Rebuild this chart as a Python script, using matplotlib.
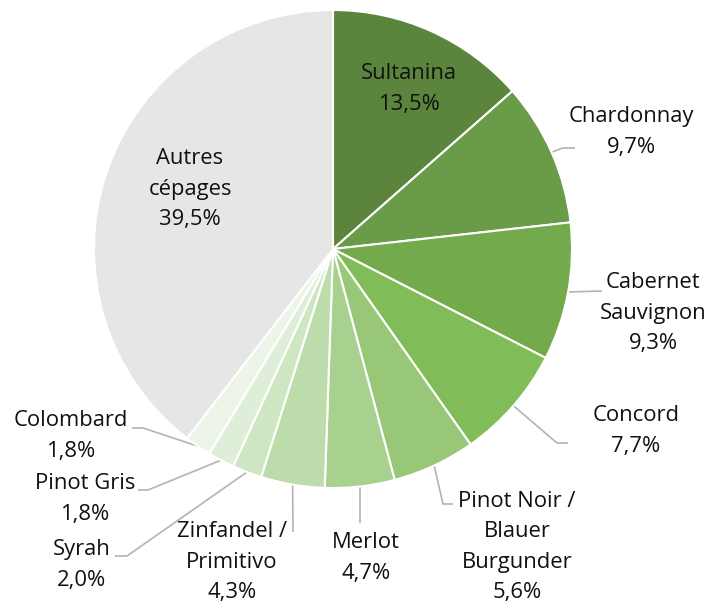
"""Répartition des cépages dans le vignoble mondial — camembert avec étiquettes."""

import numpy as np
import matplotlib.pyplot as plt

# ── Données ───────────────────────────────────────────────────────────────────
CEPAGES = [
    "Sultanina", "Chardonnay", "Cabernet\nSauvignon", "Concord",
    "Pinot Noir /\nBlauer\nBurgunder", "Merlot", "Zinfandel /\nPrimitivo",
    "Syrah", "Pinot Gris", "Colombard", "Autres\ncépages",
]
PARTS = [13.5, 9.7, 9.3, 7.7, 5.6, 4.7, 4.3, 2.0, 1.8, 1.8, 39.5]
COULEURS = [
    "#5b853d", "#6a9b48", "#72aa4c", "#80bd58", "#98c877", "#a8d190",
    "#bcdcab", "#cfe6c3", "#dfeed8", "#edf5e9", "#e6e6e6",
]

# ── Mise en page (pixels de l'image 716x605) ─────────────────────────────────
W, H = 716, 605
CX, CY, R = 333, 249, 239

# centre du bloc de texte, coude et extrémité du trait de rappel (None = à l'intérieur)
LABEL_XY = [(409, 89), (631, 132), (653, 313), (636, 431), (517, 547),
            (366, 558), (232, 562), (82, 565), (85, 499), (71, 436), (190, 189)]
ELBOW = [None, (563, 148), (602, 291), (557, 443), (443, 504),
         (360, 523), (293, 532), (127, 556), (148, 490), (143, 428), None]
END = [None, (575, 148), (602, 291), (568, 443), (453, 504),
       (360, 523), (293, 532), (115, 556), (138, 490), (132, 428), None]


def px(p):
    """pixels image -> coordonnées données (rayon du camembert = 1)."""
    return (p[0] - CX) / R, (CY - p[1]) / R


def fmt(v):
    return f"{v:.1f}%".replace(".", ",")


plt.rcParams["font.family"] = ["Open Sans", "DejaVu Sans"]

fig = plt.figure(figsize=(W / 100, H / 100), dpi=100)
ax = fig.add_axes([0, 0, 1, 1])
ax.axis("off")

wedges, _ = ax.pie(
    PARTS, colors=COULEURS, startangle=90, counterclock=False,
    radius=1, center=(0, 0), normalize=True,
    wedgeprops=dict(edgecolor="white", linewidth=1.5),
)
ax.set_xlim(-CX / R, (W - CX) / R)
ax.set_ylim(-(H - CY) / R, CY / R)
ax.set_aspect("auto")

for w, nom, v, lab, elb, end in zip(wedges, CEPAGES, PARTS, LABEL_XY, ELBOW, END):
    if elb is not None:
        mid = np.deg2rad((w.theta1 + w.theta2) / 2)
        x0, y0 = np.cos(mid), np.sin(mid)
        ex, ey = px(elb)
        fx, fy = px(end)
        ax.plot([x0, ex, fx], [y0, ey, fy], color="#b3b3b3", lw=1.2,
                solid_capstyle="butt", zorder=0.5)
    tx, ty = px(lab)
    ax.text(tx, ty, f"{nom}\n{fmt(v)}", ha="center", va="center",
            fontsize=15.8, color="#111111", linespacing=1.6)

fig.savefig("out.png", dpi=100)
